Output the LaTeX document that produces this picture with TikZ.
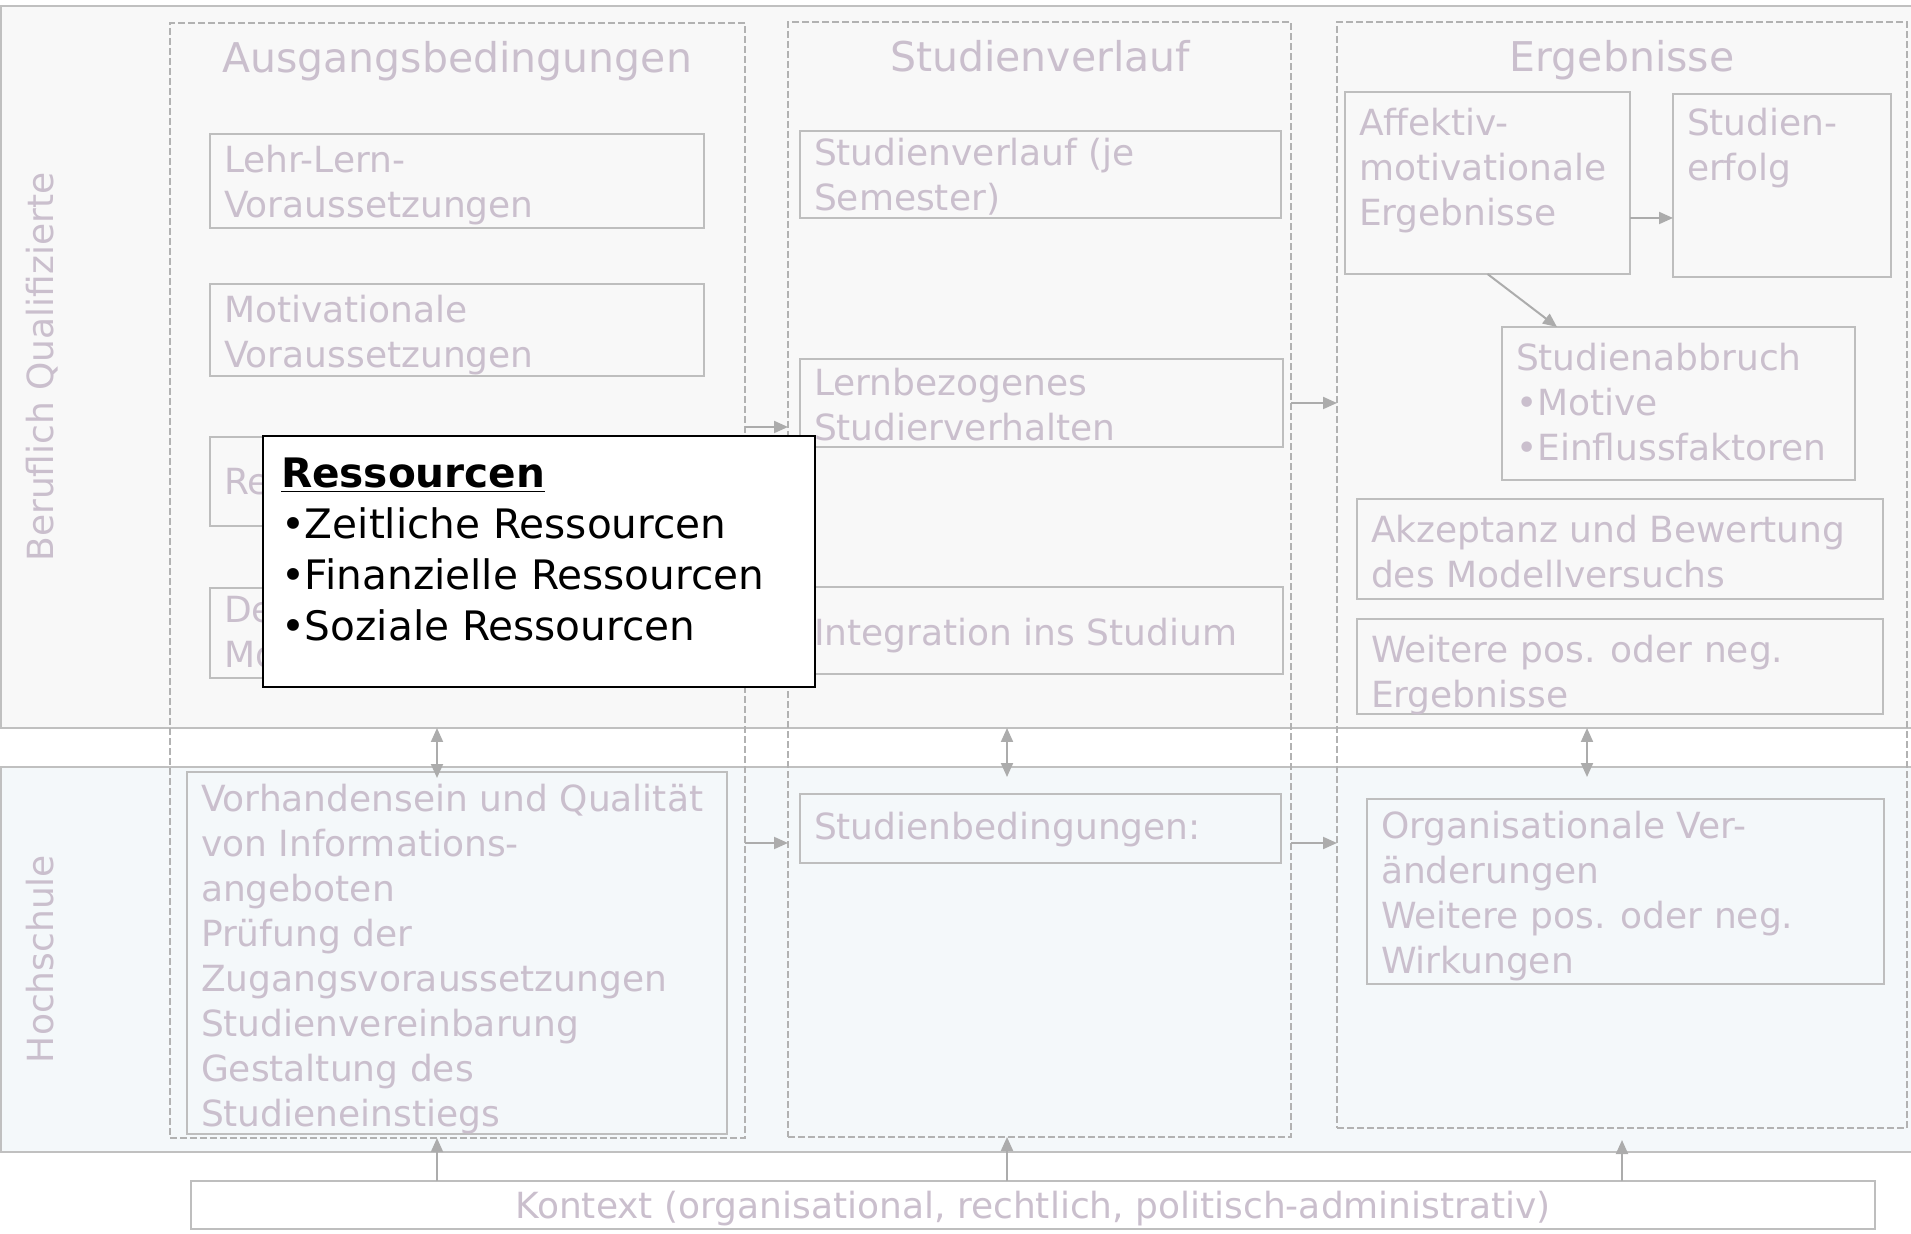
\documentclass[tikz,border=0pt]{standalone}
\usepackage{fontspec}
\setmainfont{DejaVu Sans}
\usetikzlibrary{arrows.meta,calc}
\definecolor{txtg}{RGB}{202,191,205}
\definecolor{boxg}{RGB}{190,190,190}
\definecolor{dashg}{RGB}{178,178,178}
\definecolor{arrg}{RGB}{172,172,172}
\definecolor{bandg}{RGB}{192,192,192}
\definecolor{topfill}{RGB}{248,248,248}
\definecolor{botfill}{RGB}{244,248,250}
\tikzset{
  gb/.style={draw=boxg, line width=1pt, inner xsep=7pt, inner ysep=0pt, outer sep=0pt,
    text=txtg, font=\fontsize{18}{22.5}\selectfont},
  pop/.style={draw=black, fill=white, line width=1.4pt, inner xsep=9pt, inner ysep=0pt,
    outer sep=0pt, text=black, font=\fontsize{20.3}{25.5}\selectfont},
  col/.style={draw=dashg, dash pattern=on 3.5pt off 1.5pt, line width=0.6pt, inner sep=0pt, outer sep=0pt},
  band/.style={draw=bandg, line width=1pt, inner sep=0pt, outer sep=0pt},
  hdr/.style={text=txtg, font=\fontsize{20.5}{24}\selectfont, inner sep=0pt},
  side/.style={text=txtg, font=\fontsize{18}{22}\selectfont, inner sep=0pt, rotate=90},
  arr/.style={draw=arrg, line width=1pt, -{Triangle[length=7pt,width=6pt]}},
  darr/.style={draw=arrg, line width=1pt, {Triangle[length=7pt,width=6pt]}-{Triangle[length=7pt,width=6pt]}}
}
% name, x1, y1, x2, y2, first-baseline offset (px), text
\newcommand\gbox[7]{%
  \pgfmathsetlengthmacro\gbw{(#4-#2)*0.5pt-14pt}%
  \pgfmathsetlengthmacro\gbh{(#5-#3)*0.5pt}%
  \pgfmathsetlengthmacro\gbd{(#6-31.5)*0.5pt}%
  \node[gb,anchor=north west] (#1) at (#2,#3)
    {\parbox[t][\gbh][t]{\gbw}{\raggedright\vspace*{\gbd}\strut#7}};}
\begin{document}
\begin{tikzpicture}[x=0.5pt,y=-0.5pt]
\useasboundingbox (0,0) rectangle (1911,1234);
% bands
\node[band, fill=topfill, anchor=north west, minimum width=955.5pt, minimum height=361pt] (tb) at (1,6) {};
\node[band, fill=botfill, anchor=north west, minimum width=955.5pt, minimum height=192.5pt] (bb) at (1,767) {};
\node[side, anchor=base] (bq) at (54,367) {Beruflich Qualifizierte};
\node[side, anchor=base] (hs) at (54,959) {Hochschule};
% columns
\node[col, anchor=north west, minimum width=287.5pt, minimum height=557.5pt] (c1) at (170,23) {};
\node[col, anchor=north west, minimum width=251.5pt, minimum height=557.5pt] (c2) at (788,22) {};
\node[col, anchor=north west, minimum width=285pt, minimum height=553pt] (c3) at (1337,22) {};
\node[hdr, anchor=base] (h1) at (457,73) {Ausgangsbedingungen};
\node[hdr, anchor=base] (h2) at (1040,72) {Studienverlauf};
\node[hdr, anchor=base] (h3) at (1622,72) {Ergebnisse};
% column 1
\gbox{ll}{210}{134}{704}{228}{39}{Lehr-Lern-\\Voraussetzungen}
\gbox{mv}{210}{284}{704}{376}{39}{Motivationale\\Voraussetzungen}
\gbox{rs}{210}{437}{704}{526}{58}{Re}
\gbox{dm}{210}{588}{704}{678}{35}{De\\Mo}
\gbox{vh}{187}{772}{727}{1134}{39}{\mbox{Vorhandensein und Qualität}\\von Informations-\\angeboten\\Prüfung der\\Zugangsvoraussetzungen\\Studienvereinbarung\\Gestaltung des\\Studieneinstiegs}
% column 2
\gbox{sv}{800}{131}{1281}{218}{35}{Studienverlauf (je\\Semester)}
\gbox{lb}{800}{359}{1283}{447}{37}{Lernbezogenes\\Studierverhalten}
\gbox{is}{800}{587}{1283}{674}{59}{Integration ins Studium}
\gbox{sb}{800}{794}{1281}{863}{45}{Studienbedingungen:}
% column 3
\gbox{am}{1345}{92}{1630}{274}{44}{Affektiv-\\motivationale\\Ergebnisse}
\gbox{se}{1673}{94}{1891}{277}{42}{Studien-\\erfolg}
\gbox{sa}{1502}{327}{1855}{480}{44}{Studienabbruch\\•Motive\\•Einflussfaktoren}
\gbox{ak}{1357}{499}{1883}{599}{44}{Akzeptanz und Bewertung\\des Modellversuchs}
\gbox{we}{1357}{619}{1883}{714}{44}{Weitere pos. oder neg.\\Ergebnisse}
\gbox{og}{1367}{799}{1884}{984}{39}{Organisationale Ver-\\änderungen\\Weitere pos. oder neg.\\Wirkungen}
% context
\node[gb, fill=white, inner sep=0pt, text depth=0pt, anchor=north west, minimum width=842pt, minimum height=24pt] (kx) at (191,1181)
  {Kontext (organisational, rechtlich, politisch-administrativ)};
% helper coordinates
\coordinate (ya) at (0,427);
\coordinate (yb) at (0,843);
\coordinate (yc) at (0,218);
\coordinate (x1) at (437,0);
\coordinate (x2) at (1007,0);
\coordinate (x3) at (1587,0);
\coordinate (x4) at (1622,0);
\coordinate (e1) at ($(bb.north -| x1)+(0,11)$);
\coordinate (e2) at ($(bb.north -| x2)+(0,10)$);
\coordinate (e3) at ($(bb.north -| x3)+(0,10)$);
\coordinate (e4) at ($(c3.south -| x4)+(0,12)$);
\coordinate (ab) at ($(sa.north west)+(55,0)$);
% arrows
\draw[arr] (c1.east |- ya) -- (c2.west |- ya);
\draw[arr] (c2.east |- lb.east) -- (c3.west |- lb.east);
\draw[arr] (c1.east |- yb) -- (c2.west |- yb);
\draw[arr] (c2.east |- yb) -- (c3.west |- yb);
\draw[arr] (am.east |- yc) -- (se.west |- yc);
\draw[arr] (am.south) -- (ab);
\draw[darr] (tb.south -| x1) -- (e1);
\draw[darr] (tb.south -| x2) -- (e2);
\draw[darr] (tb.south -| x3) -- (e3);
\draw[arr] (kx.north -| x1) -- (c1.south -| x1);
\draw[arr] (kx.north -| x2) -- (c2.south -| x2);
\draw[arr] (kx.north -| x4) -- (e4);
% popup
\node[pop, anchor=north west] (pp) at (263,436)
  {\parbox[t][125.5pt][t]{258pt}{\raggedright\vspace*{8.15pt}\strut\underline{\textbf{Ressourcen}}\\•Zeitliche Ressourcen\\•Finanzielle Ressourcen\\•Soziale Ressourcen}};
\end{tikzpicture}
\end{document}
